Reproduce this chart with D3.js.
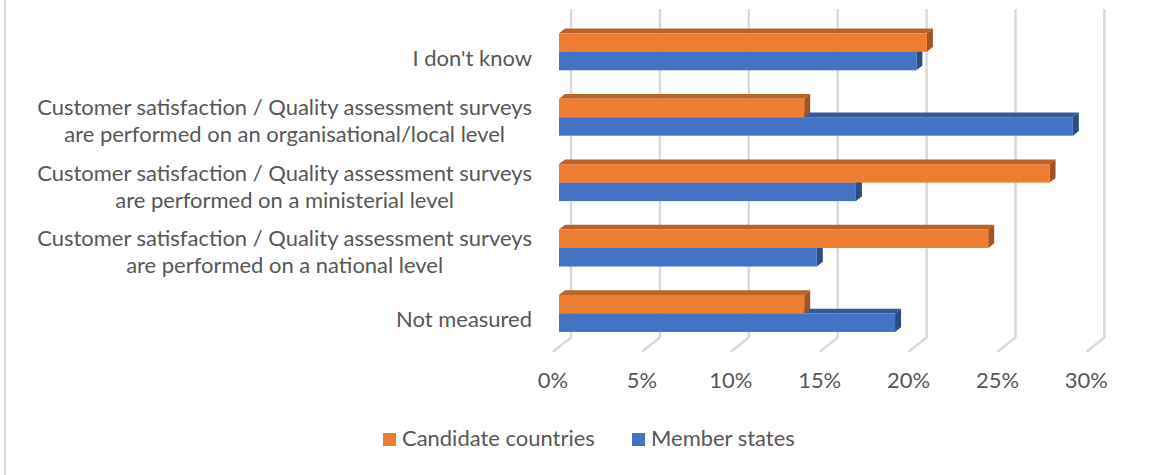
<!DOCTYPE html>
<html>
<head>
<meta charset="utf-8">
<script src="https://cdn.jsdelivr.net/npm/d3@7"></script>
<style>
  html, body { margin: 0; padding: 0; background: #ffffff; }
  svg { display: block; }
</style>
</head>
<body>
<svg id="chart" width="1158" height="475"></svg>
<script>
// Categories, top to bottom, with their wrapped label lines
const categories = [
  "I don't know",
  "Organisational/local level",
  "Ministerial level",
  "National level",
  "Not measured"
];
const categoryLines = [
  ["I don't know"],
  ["Customer satisfaction / Quality assessment surveys", "are performed on an organisational/local level"],
  ["Customer satisfaction / Quality assessment surveys", "are performed on a ministerial level"],
  ["Customer satisfaction / Quality assessment surveys", "are performed on a national level"],
  ["Not measured"]
];
const seriesNames = ["Candidate countries", "Member states"];
// Shares in percent
const candidateCountries = [20.69, 13.79, 27.59, 24.14, 13.79];
const memberStates = [20.1, 28.9, 16.7, 14.5, 18.9];
const tickValues = [0, 5, 10, 15, 20, 25, 30];
const tickLabels = ["0%", "5%", "10%", "15%", "20%", "25%", "30%"];

const seriesValues = [candidateCountries, memberStates];
const colors = {
  front: ["#ED7D31", "#4472C4"],
  top:   ["#B9622A", "#36599C"],
  side:  ["#A2531F", "#2C4C86"]
};

const svg = d3.select("#chart");
const FONT = "Lato, Carlito, 'Liberation Sans', sans-serif";
const TEXT = "#575757";
const GRID = "#D9D9D9";

// Fit the font size so the longest label line spans its width
const probe = svg.append("text").attr("font-family", FONT).attr("font-size", 24)
  .text(categoryLines[1][0]);
const probeW = probe.node().getComputedTextLength();
probe.remove();
const fs = Math.min(26, Math.max(18, 24 * 495 / probeW));

// 3D box geometry: back wall, bar face plane and floor front edge
const X_BACK = 571, X_BAR = 559, X_FRONT = 553;
const Y_TOP = 9, Y_FLOOR_BACK = 337.5, Y_FLOOR_FRONT = 351.7;
const DEPTH_X = 6, DEPTH_Y = -4.7;

const x = d3.scaleLinear().domain([0, 30]).range([0, 533.4]);
const y = d3.scaleBand().domain(categories).range([19.1, 346.1])
  .paddingInner(0.434).paddingOuter(0.217);
const ys = d3.scaleBand().domain(seriesNames).range([0, y.bandwidth()]);

// Chart frame edge
svg.append("line").attr("x1", 5).attr("x2", 5).attr("y1", 0).attr("y2", 475)
  .attr("stroke", GRID).attr("stroke-width", 2);

// Back-wall gridlines continuing across the floor
const grid = svg.append("g");
tickValues.forEach(t => {
  const xb = X_BACK + x(t);
  const xf = X_FRONT + x(t);
  grid.append("path")
    .attr("d", `M${xb},${Y_TOP}L${xb},${Y_FLOOR_BACK}L${xf},${Y_FLOOR_FRONT}`)
    .attr("fill", "none").attr("stroke", GRID).attr("stroke-width", 2.5)
    .attr("stroke-linejoin", "round");
});

// Value axis labels along the floor front edge
svg.append("g").selectAll("text").data(tickValues).join("text")
  .attr("x", t => X_FRONT + x(t))
  .attr("y", 388)
  .attr("text-anchor", "middle")
  .attr("font-family", FONT).attr("font-size", fs).attr("fill", TEXT)
  .text((t, i) => tickLabels[i]);

// Bars: the lower series first so the upper one covers its top face
const bars = svg.append("g");
[1, 0].forEach(s => {
  categories.forEach((c, i) => {
    const v = seriesValues[s][i];
    const x0 = X_BAR, x1 = X_BAR + x(v);
    const yt = y(c) + ys(seriesNames[s]);
    const h = ys.bandwidth();
    const g = bars.append("g");
    g.append("path")
      .attr("d", `M${x0},${yt}L${x0 + DEPTH_X},${yt + DEPTH_Y}L${x1 + DEPTH_X},${yt + DEPTH_Y}L${x1},${yt}Z`)
      .attr("fill", colors.top[s]);
    g.append("path")
      .attr("d", `M${x1},${yt}L${x1 + DEPTH_X},${yt + DEPTH_Y}L${x1 + DEPTH_X},${yt + h + DEPTH_Y}L${x1},${yt + h}Z`)
      .attr("fill", colors.side[s]);
    g.append("rect")
      .attr("x", x0).attr("y", yt).attr("width", x1 - x0).attr("height", h)
      .attr("fill", colors.front[s]);
  });
});

// Category labels, right aligned, multi-line blocks centred on each band
const LINE_H = 27;
const labels = svg.append("g");
categories.forEach((c, i) => {
  const lines = categoryLines[i];
  const yc = y(c) + y.bandwidth() / 2 + 6.5 - (lines.length - 1) * 2.5;
  const t = labels.append("text")
    .attr("font-family", FONT).attr("font-size", fs).attr("fill", TEXT)
    .attr("text-anchor", "middle");
  const widest = d3.max(lines, l => {
    const p = svg.append("text").attr("font-family", FONT).attr("font-size", fs).text(l);
    const w = p.node().getComputedTextLength(); p.remove(); return w;
  });
  const cx = 532 - widest / 2;
  lines.forEach((l, k) => {
    t.append("tspan")
      .attr("x", cx)
      .attr("y", yc + (k - (lines.length - 1) / 2) * LINE_H)
      .attr("dy", "0.34em")
      .text(l);
  });
});

// Legend
const legendX = [383, 632];
const legend = svg.append("g");
seriesNames.forEach((n, s) => {
  legend.append("rect").attr("x", legendX[s]).attr("y", 433)
    .attr("width", 13).attr("height", 13).attr("fill", colors.front[s]);
  legend.append("text").attr("x", legendX[s] + 19).attr("y", 439).attr("dy", "0.34em")
    .attr("font-family", FONT).attr("font-size", fs).attr("fill", TEXT).text(n);
});
</script>
</body>
</html>
